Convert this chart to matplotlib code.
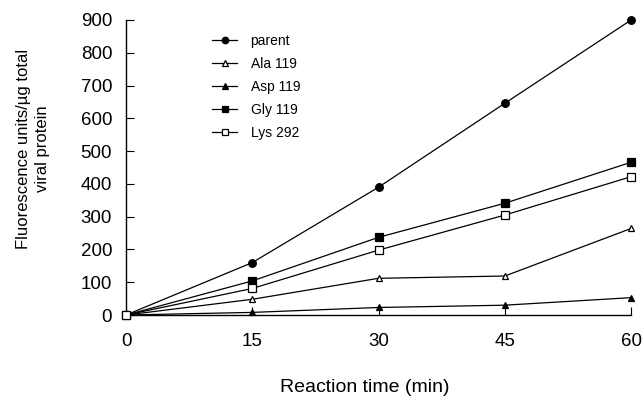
import matplotlib
matplotlib.use("Agg")
import matplotlib.pyplot as plt

plt.rcParams['font.family'] = ['Liberation Sans', 'DejaVu Sans']

time = [0, 15, 30, 45, 60]
parent = [0, 160, 390, 646, 900]
ala119 = [0, 48, 112, 119, 264]
asp119 = [0, 8, 23, 30, 53]
gly119 = [0, 104, 237, 341, 466]
lys292 = [0, 81, 198, 305, 422]

series = [
    ("parent", parent, 'o', 'black'),
    ("Ala 119", ala119, '^', 'white'),
    ("Asp 119", asp119, '^', 'black'),
    ("Gly 119", gly119, 's', 'black'),
    ("Lys 292", lys292, 's', 'white'),
]

fig = plt.figure(figsize=(6.44, 3.96), dpi=100)
ax = fig.add_axes([0.1957, 0.2045, 0.7843, 0.745])

handles = []
for name, vals, m, fc in series:
    ms = 5.5 if m != '^' else 5
    ln, = ax.plot(time, vals, color='black', lw=0.9, marker=m, markersize=ms,
                  markerfacecolor=fc, markeredgecolor='black', markeredgewidth=0.9,
                  clip_on=False, zorder=3, label=name)
    handles.append(ln)

ax.set_xlim(0, 60)
ax.set_ylim(0, 900)
ax.set_xticks([0, 15, 30, 45, 60])
ax.set_yticks(range(0, 901, 100))
for s in ['top', 'right']:
    ax.spines[s].set_visible(False)
for s in ['left', 'bottom']:
    ax.spines[s].set_linewidth(1.0)
ax.tick_params(axis='x', direction='in', length=6, pad=13, labelsize=13.5)
ax.tick_params(axis='y', direction='in', length=6, pad=10, labelsize=13.5)

ax.set_xlabel("Reaction time (min)", fontsize=14, va='center')
ax.xaxis.set_label_coords(0.472, -0.244)
ax.set_ylabel("Fluorescence units/µg total\nviral protein", fontsize=12,
              linespacing=1.35, va='center')
ax.yaxis.set_label_coords(-0.184, 0.563)

leg = ax.legend(handles=handles, loc='upper left', bbox_to_anchor=(0.16, 0.972),
                borderaxespad=0, frameon=False, fontsize=10, handlelength=1.75,
                labelspacing=0.65, handletextpad=1.0, markerscale=0.85)

fig.savefig("out.png", dpi=100)
